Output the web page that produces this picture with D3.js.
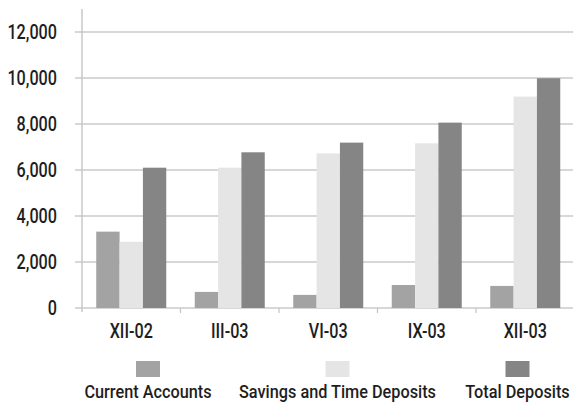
<!DOCTYPE html>
<html><head><meta charset="utf-8">
<script src="https://cdn.jsdelivr.net/npm/d3@7"></script>
<style>
html,body{margin:0;padding:0;background:#fff;}
svg text{font-family:Roboto,"Liberation Sans",sans-serif;fill:#1e1e1e;font-weight:500;}
</style></head>
<body>
<svg id="c" width="573" height="402"></svg>
<script>
const categories = ["XII-02","III-03","VI-03","IX-03","XII-03"];
const seriesNames = ["Current Accounts","Savings and Time Deposits","Total Deposits"];
const currentAccounts = [3320, 700, 570, 1000, 960];
const savingsTime = [2880, 6100, 6720, 7160, 9190];
const totalDeposits = [6100, 6770, 7190, 8060, 9990];
const yTicks = [0,2000,4000,6000,8000,10000,12000];
const colors = ["#a3a3a3","#e5e5e5","#858585"];

(function(){
const seriesValues = [currentAccounts, savingsTime, totalDeposits];
const svg = d3.select("#c");
const pLeft = 82, pRight = 574.5, pTop = 9, pBottom = 308;
const SX = 0.83, SXL = 0.88;

const y = d3.scaleLinear().domain([0,13000]).range([pBottom, pTop]);
const x0 = d3.scaleBand().domain(categories).range([pLeft, pRight]).padding(0);
const x1 = d3.scaleBand().domain(seriesNames).range([14.25, x0.bandwidth()-14.25]).padding(0);

svg.append("g").selectAll("line").data(yTicks).join("line")
  .attr("x1", 75).attr("x2", 573)
  .attr("y1", d => y(d)).attr("y2", d => y(d))
  .attr("stroke", "#cacaca").attr("stroke-width", 1.4);

svg.append("line").attr("x1", pLeft).attr("x2", pLeft).attr("y1", pTop).attr("y2", pBottom+4)
  .attr("stroke", "#c4c4c4").attr("stroke-width", 1.4);

svg.append("g").selectAll("line").data(categories.slice(1)).join("line")
  .attr("x1", d => x0(d)).attr("x2", d => x0(d))
  .attr("y1", pBottom).attr("y2", pBottom+5)
  .attr("stroke", "#c4c4c4").attr("stroke-width", 1.2);

svg.append("g").selectAll("g").data(yTicks).join("g")
  .attr("transform", d => `translate(57,${y(d)}) scale(${SX},1)`)
  .append("text").attr("dy", "0.36em")
  .attr("text-anchor", "end").attr("font-size", 19.5)
  .text(d => d3.format(",")(d));

const groups = svg.append("g").selectAll("g").data(categories).join("g")
  .attr("transform", d => `translate(${x0(d)},0)`);
groups.selectAll("rect").data((d,i) => seriesNames.map((s,j) => ({s, v: seriesValues[j][i], j})))
  .join("rect")
  .attr("x", d => x1(d.s)).attr("width", x1.bandwidth())
  .attr("y", d => y(d.v)).attr("height", d => y(0) - y(d.v))
  .attr("fill", d => colors[d.j]);

svg.append("g").selectAll("g").data(categories).join("g")
  .attr("transform", d => `translate(${x0(d) + x0.bandwidth()/2},338) scale(${SX},1)`)
  .append("text")
  .attr("text-anchor", "middle").attr("font-size", 19.5)
  .text(d => d);

const legendX = [148, 337.5, 517.5];
const lg = svg.append("g").selectAll("g").data(seriesNames).join("g");
lg.append("rect").attr("x", (d,i) => legendX[i]-12).attr("y", 361).attr("width", 24).attr("height", 16)
  .attr("fill", (d,i) => colors[i]);
lg.append("g").attr("transform", (d,i) => `translate(${legendX[i]},398) scale(${SXL},1)`)
  .append("text")
  .attr("text-anchor", "middle").attr("font-size", 18.5)
  .text(d => d);
})();
</script>
</body></html>
